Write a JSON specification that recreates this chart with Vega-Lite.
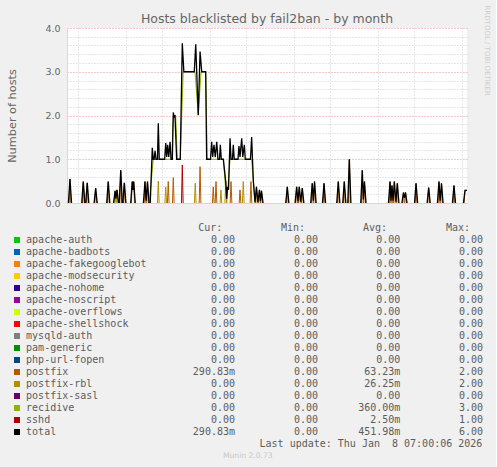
{
  "$schema": "https://vega.github.io/schema/vega-lite/v6.json",
  "background": "#f0f0f0",
  "padding": {"left": 6, "top": 5, "right": 5, "bottom": 5},
  "spacing": 9,
  "config": {
    "font": "DejaVu Sans",
    "view": {"stroke": null},
    "axis": {
      "labelFont": "DejaVu Sans", "labelFontSize": 9.5, "labelColor": "#666666",
      "titleFont": "DejaVu Sans", "titleFontWeight": "normal", "titleColor": "#666666",
      "domainColor": "#cfd6f8", "gridDash": [1, 2], "ticks": false, "tickSize": 0
    }
  },
  "datasets": {
    "lines": [
      {"s":"total","g":1,"d":0.16,"v":0},{"s":"total","g":1,"d":0.29,"v":0.55},{"s":"total","g":1,"d":0.42,"v":0},
      {"s":"total","g":2,"d":1.27,"v":0},{"s":"total","g":2,"d":1.40,"v":0.49},{"s":"total","g":2,"d":1.53,"v":0},
      {"s":"total","g":3,"d":1.60,"v":0},{"s":"total","g":3,"d":1.73,"v":0.46},{"s":"total","g":3,"d":1.86,"v":0},
      {"s":"total","g":4,"d":2.30,"v":0},{"s":"total","g":4,"d":2.43,"v":0.34},{"s":"total","g":4,"d":2.56,"v":0},
      {"s":"total","g":5,"d":3.35,"v":0},{"s":"total","g":5,"d":3.48,"v":0.49},{"s":"total","g":5,"d":3.61,"v":0},
      {"s":"total","g":6,"d":3.92,"v":0},{"s":"total","g":6,"d":4.05,"v":0.28},{"s":"total","g":6,"d":4.12,"v":0.1},{"s":"total","g":6,"d":4.21,"v":0.3},{"s":"total","g":6,"d":4.34,"v":0},
      {"s":"total","g":7,"d":4.39,"v":0},{"s":"total","g":7,"d":4.52,"v":0.75},{"s":"total","g":7,"d":4.65,"v":0},
      {"s":"total","g":8,"d":4.69,"v":0},{"s":"total","g":8,"d":4.82,"v":0.46},{"s":"total","g":8,"d":4.95,"v":0},
      {"s":"total","g":9,"d":5.35,"v":0},{"s":"total","g":9,"d":5.48,"v":0.49},{"s":"total","g":9,"d":5.54,"v":0.3},{"s":"total","g":9,"d":5.60,"v":0.49},{"s":"total","g":9,"d":5.73,"v":0},
      {"s":"total","g":10,"d":6.41,"v":0},{"s":"total","g":10,"d":6.54,"v":0.49},{"s":"total","g":10,"d":6.64,"v":0.05},{"s":"total","g":10,"d":6.75,"v":0.49},{"s":"total","g":10,"d":6.88,"v":0},
      {"s":"total","g":11,"d":6.98,"v":0},{"s":"total","g":11,"d":7.15,"v":1.26},{"s":"total","g":11,"d":7.23,"v":1.0},{"s":"total","g":11,"d":7.30,"v":1.0},{"s":"total","g":11,"d":7.38,"v":1.19},{"s":"total","g":11,"d":7.46,"v":1.0},{"s":"total","g":11,"d":7.58,"v":1.0},{"s":"total","g":11,"d":7.65,"v":1.82},{"s":"total","g":11,"d":7.73,"v":1.0},{"s":"total","g":11,"d":8.18,"v":1.0},{"s":"total","g":11,"d":8.27,"v":1.37},{"s":"total","g":11,"d":8.35,"v":1.05},{"s":"total","g":11,"d":8.43,"v":1.33},{"s":"total","g":11,"d":8.52,"v":1.05},{"s":"total","g":11,"d":8.63,"v":1.4},{"s":"total","g":11,"d":8.71,"v":1.0},{"s":"total","g":11,"d":8.82,"v":1.0},{"s":"total","g":11,"d":8.90,"v":2.07},{"s":"total","g":11,"d":8.98,"v":1.95},{"s":"total","g":11,"d":9.04,"v":2.01},{"s":"total","g":11,"d":9.18,"v":1.0},{"s":"total","g":11,"d":9.48,"v":1.0},{"s":"total","g":11,"d":9.65,"v":3.65},{"s":"total","g":11,"d":9.78,"v":3.0},{"s":"total","g":11,"d":10.65,"v":3.0},{"s":"total","g":11,"d":10.77,"v":3.63},{"s":"total","g":11,"d":10.98,"v":2.01},{"s":"total","g":11,"d":11.13,"v":3.46},{"s":"total","g":11,"d":11.27,"v":3.0},{"s":"total","g":11,"d":11.60,"v":3.0},{"s":"total","g":11,"d":11.68,"v":1.0},{"s":"total","g":11,"d":12.00,"v":1.0},{"s":"total","g":11,"d":12.10,"v":1.4},{"s":"total","g":11,"d":12.18,"v":1.05},{"s":"total","g":11,"d":12.29,"v":1.33},{"s":"total","g":11,"d":12.40,"v":1.05},{"s":"total","g":11,"d":12.52,"v":1.4},{"s":"total","g":11,"d":12.62,"v":1.0},{"s":"total","g":11,"d":12.75,"v":1.0},{"s":"total","g":11,"d":12.82,"v":1.33},{"s":"total","g":11,"d":12.90,"v":1.0},{"s":"total","g":11,"d":13.07,"v":1.0},{"s":"total","g":11,"d":13.27,"v":0.49},{"s":"total","g":11,"d":13.35,"v":0.1},{"s":"total","g":11,"d":13.42,"v":0.37},{"s":"total","g":11,"d":13.50,"v":0.3},{"s":"total","g":11,"d":13.63,"v":1.48},{"s":"total","g":11,"d":13.71,"v":1.0},{"s":"total","g":11,"d":13.83,"v":1.0},{"s":"total","g":11,"d":13.90,"v":1.33},{"s":"total","g":11,"d":13.98,"v":1.0},{"s":"total","g":11,"d":14.29,"v":1.0},{"s":"total","g":11,"d":14.37,"v":1.3},{"s":"total","g":11,"d":14.46,"v":1.05},{"s":"total","g":11,"d":14.60,"v":1.48},{"s":"total","g":11,"d":14.69,"v":1.05},{"s":"total","g":11,"d":14.82,"v":1.33},{"s":"total","g":11,"d":14.90,"v":1.0},{"s":"total","g":11,"d":15.33,"v":1.0},{"s":"total","g":11,"d":15.43,"v":1.51},{"s":"total","g":11,"d":15.50,"v":1.0},{"s":"total","g":11,"d":15.57,"v":0.5},{"s":"total","g":11,"d":15.71,"v":0.02},{"s":"total","g":11,"d":15.83,"v":0.37},{"s":"total","g":11,"d":15.95,"v":0.02},{"s":"total","g":11,"d":16.08,"v":0.3},{"s":"total","g":11,"d":16.16,"v":0.04},{"s":"total","g":11,"d":16.25,"v":0.28},{"s":"total","g":11,"d":16.38,"v":0},
      {"s":"total","g":12,"d":18.27,"v":0},{"s":"total","g":12,"d":18.40,"v":0.37},{"s":"total","g":12,"d":18.53,"v":0},
      {"s":"total","g":13,"d":19.05,"v":0},{"s":"total","g":13,"d":19.18,"v":0.37},{"s":"total","g":13,"d":19.29,"v":0.04},{"s":"total","g":13,"d":19.40,"v":0.37},{"s":"total","g":13,"d":19.52,"v":0.03},{"s":"total","g":13,"d":19.65,"v":0.34},{"s":"total","g":13,"d":19.78,"v":0},
      {"s":"total","g":14,"d":20.35,"v":0},{"s":"total","g":14,"d":20.48,"v":0.45},{"s":"total","g":14,"d":20.57,"v":0.05},{"s":"total","g":14,"d":20.67,"v":0.49},{"s":"total","g":14,"d":20.80,"v":0},
      {"s":"total","g":15,"d":21.33,"v":0},{"s":"total","g":15,"d":21.46,"v":0.45},{"s":"total","g":15,"d":21.59,"v":0},
      {"s":"total","g":16,"d":22.52,"v":0},{"s":"total","g":16,"d":22.65,"v":0.49},{"s":"total","g":16,"d":22.78,"v":0},
      {"s":"total","g":17,"d":23.02,"v":0},{"s":"total","g":17,"d":23.15,"v":0.49},{"s":"total","g":17,"d":23.28,"v":0},
      {"s":"total","g":18,"d":23.44,"v":0},{"s":"total","g":18,"d":23.57,"v":1.0},{"s":"total","g":18,"d":23.70,"v":0},
      {"s":"total","g":19,"d":24.52,"v":0},{"s":"total","g":19,"d":24.65,"v":0.75},{"s":"total","g":19,"d":24.74,"v":0.08},{"s":"total","g":19,"d":24.83,"v":0.49},{"s":"total","g":19,"d":24.96,"v":0},
      {"s":"total","g":20,"d":26.83,"v":0},{"s":"total","g":20,"d":26.96,"v":0.49},{"s":"total","g":20,"d":27.04,"v":0.05},{"s":"total","g":20,"d":27.12,"v":0.4},{"s":"total","g":20,"d":27.22,"v":0.05},{"s":"total","g":20,"d":27.32,"v":0.49},{"s":"total","g":20,"d":27.45,"v":0.03},{"s":"total","g":20,"d":27.57,"v":0.45},{"s":"total","g":20,"d":27.70,"v":0},
      {"s":"total","g":21,"d":27.95,"v":0},{"s":"total","g":21,"d":28.08,"v":0.24},{"s":"total","g":21,"d":28.16,"v":0.12},{"s":"total","g":21,"d":28.25,"v":0.24},{"s":"total","g":21,"d":28.38,"v":0},
      {"s":"total","g":22,"d":29.00,"v":0},{"s":"total","g":22,"d":29.13,"v":0.45},{"s":"total","g":22,"d":29.26,"v":0},
      {"s":"total","g":23,"d":30.05,"v":0},{"s":"total","g":23,"d":30.18,"v":0.35},{"s":"total","g":23,"d":30.31,"v":0},
      {"s":"total","g":24,"d":30.91,"v":0},{"s":"total","g":24,"d":31.04,"v":0.49},{"s":"total","g":24,"d":31.14,"v":0.05},{"s":"total","g":24,"d":31.25,"v":0.45},{"s":"total","g":24,"d":31.38,"v":0},
      {"s":"total","g":25,"d":32.16,"v":0},{"s":"total","g":25,"d":32.29,"v":0.4},{"s":"total","g":25,"d":32.42,"v":0},
      {"s":"total","g":26,"d":33.08,"v":0},{"s":"total","g":26,"d":33.21,"v":0.29},{"s":"total","g":26,"d":33.375,"v":0.29},

      {"s":"recidive","g":1,"d":6.90,"v":0},{"s":"recidive","g":1,"d":7.23,"v":1.0},{"s":"recidive","g":1,"d":8.77,"v":1.0},{"s":"recidive","g":1,"d":8.90,"v":2.0},{"s":"recidive","g":1,"d":9.10,"v":2.0},{"s":"recidive","g":1,"d":9.24,"v":1.0},{"s":"recidive","g":1,"d":9.48,"v":1.0},{"s":"recidive","g":1,"d":9.73,"v":3.0},{"s":"recidive","g":1,"d":10.71,"v":3.0},{"s":"recidive","g":1,"d":10.98,"v":2.0},{"s":"recidive","g":1,"d":11.21,"v":3.0},{"s":"recidive","g":1,"d":11.60,"v":3.0},{"s":"recidive","g":1,"d":11.73,"v":1.0},{"s":"recidive","g":1,"d":13.07,"v":1.0},{"s":"recidive","g":1,"d":13.35,"v":0},{"s":"recidive","g":1,"d":13.63,"v":1.0},{"s":"recidive","g":1,"d":15.43,"v":1.0},{"s":"recidive","g":1,"d":15.71,"v":0},

      {"s":"sshd","g":1,"d":9.58,"v":0},{"s":"sshd","g":1,"d":9.65,"v":0.87},{"s":"sshd","g":1,"d":9.72,"v":0},

      {"s":"postfix-rbl","g":1,"d":3.98,"v":0},{"s":"postfix-rbl","g":1,"d":4.05,"v":0.28},{"s":"postfix-rbl","g":1,"d":4.12,"v":0},
      {"s":"postfix-rbl","g":2,"d":4.14,"v":0},{"s":"postfix-rbl","g":2,"d":4.21,"v":0.3},{"s":"postfix-rbl","g":2,"d":4.28,"v":0},
      {"s":"postfix-rbl","g":3,"d":7.58,"v":0},{"s":"postfix-rbl","g":3,"d":7.65,"v":0.5},{"s":"postfix-rbl","g":3,"d":7.72,"v":0},
      {"s":"postfix-rbl","g":4,"d":8.20,"v":0},{"s":"postfix-rbl","g":4,"d":8.27,"v":0.37},{"s":"postfix-rbl","g":4,"d":8.34,"v":0},
      {"s":"postfix-rbl","g":5,"d":10.66,"v":0},{"s":"postfix-rbl","g":5,"d":10.73,"v":0.45},{"s":"postfix-rbl","g":5,"d":10.80,"v":0},
      {"s":"postfix-rbl","g":6,"d":12.80,"v":0},{"s":"postfix-rbl","g":6,"d":12.87,"v":0.3},{"s":"postfix-rbl","g":6,"d":12.94,"v":0},
      {"s":"postfix-rbl","g":7,"d":13.20,"v":0},{"s":"postfix-rbl","g":7,"d":13.27,"v":0.49},{"s":"postfix-rbl","g":7,"d":13.34,"v":0},
      {"s":"postfix-rbl","g":8,"d":14.66,"v":0},{"s":"postfix-rbl","g":8,"d":14.73,"v":0.49},{"s":"postfix-rbl","g":8,"d":14.80,"v":0},

      {"s":"postfix","g":1,"d":0.22,"v":0},{"s":"postfix","g":1,"d":0.29,"v":0.55},{"s":"postfix","g":1,"d":0.36,"v":0},
      {"s":"postfix","g":2,"d":1.33,"v":0},{"s":"postfix","g":2,"d":1.40,"v":0.49},{"s":"postfix","g":2,"d":1.47,"v":0},
      {"s":"postfix","g":3,"d":1.66,"v":0},{"s":"postfix","g":3,"d":1.73,"v":0.46},{"s":"postfix","g":3,"d":1.80,"v":0},
      {"s":"postfix","g":4,"d":2.36,"v":0},{"s":"postfix","g":4,"d":2.43,"v":0.34},{"s":"postfix","g":4,"d":2.50,"v":0},
      {"s":"postfix","g":5,"d":3.41,"v":0},{"s":"postfix","g":5,"d":3.48,"v":0.49},{"s":"postfix","g":5,"d":3.55,"v":0},
      {"s":"postfix","g":6,"d":4.45,"v":0},{"s":"postfix","g":6,"d":4.52,"v":0.75},{"s":"postfix","g":6,"d":4.59,"v":0},
      {"s":"postfix","g":7,"d":4.75,"v":0},{"s":"postfix","g":7,"d":4.82,"v":0.46},{"s":"postfix","g":7,"d":4.89,"v":0},
      {"s":"postfix","g":8,"d":5.41,"v":0},{"s":"postfix","g":8,"d":5.48,"v":0.49},{"s":"postfix","g":8,"d":5.54,"v":0.3},{"s":"postfix","g":8,"d":5.60,"v":0.49},{"s":"postfix","g":8,"d":5.67,"v":0},
      {"s":"postfix","g":9,"d":6.47,"v":0},{"s":"postfix","g":9,"d":6.54,"v":0.49},{"s":"postfix","g":9,"d":6.61,"v":0},
      {"s":"postfix","g":10,"d":6.68,"v":0},{"s":"postfix","g":10,"d":6.75,"v":0.49},{"s":"postfix","g":10,"d":6.82,"v":0},
      {"s":"postfix","g":11,"d":8.41,"v":0},{"s":"postfix","g":11,"d":8.48,"v":0.49},{"s":"postfix","g":11,"d":8.55,"v":0},
      {"s":"postfix","g":12,"d":8.83,"v":0},{"s":"postfix","g":12,"d":8.90,"v":0.58},{"s":"postfix","g":12,"d":8.97,"v":0},
      {"s":"postfix","g":13,"d":11.06,"v":0},{"s":"postfix","g":13,"d":11.13,"v":0.83},{"s":"postfix","g":13,"d":11.20,"v":0},
      {"s":"postfix","g":14,"d":12.16,"v":0},{"s":"postfix","g":14,"d":12.23,"v":0.37},{"s":"postfix","g":14,"d":12.30,"v":0},
      {"s":"postfix","g":15,"d":12.39,"v":0},{"s":"postfix","g":15,"d":12.46,"v":0.49},{"s":"postfix","g":15,"d":12.53,"v":0},
      {"s":"postfix","g":16,"d":13.64,"v":0},{"s":"postfix","g":16,"d":13.71,"v":0.49},{"s":"postfix","g":16,"d":13.78,"v":0},
      {"s":"postfix","g":17,"d":14.39,"v":0},{"s":"postfix","g":17,"d":14.46,"v":0.3},{"s":"postfix","g":17,"d":14.53,"v":0},
      {"s":"postfix","g":18,"d":15.30,"v":0},{"s":"postfix","g":18,"d":15.37,"v":0.49},{"s":"postfix","g":18,"d":15.44,"v":0},
      {"s":"postfix","g":19,"d":15.76,"v":0},{"s":"postfix","g":19,"d":15.83,"v":0.37},{"s":"postfix","g":19,"d":15.90,"v":0},
      {"s":"postfix","g":20,"d":16.01,"v":0},{"s":"postfix","g":20,"d":16.08,"v":0.3},{"s":"postfix","g":20,"d":16.15,"v":0},
      {"s":"postfix","g":21,"d":16.18,"v":0},{"s":"postfix","g":21,"d":16.25,"v":0.28},{"s":"postfix","g":21,"d":16.32,"v":0},
      {"s":"postfix","g":22,"d":18.33,"v":0},{"s":"postfix","g":22,"d":18.40,"v":0.37},{"s":"postfix","g":22,"d":18.47,"v":0},
      {"s":"postfix","g":23,"d":19.11,"v":0},{"s":"postfix","g":23,"d":19.18,"v":0.37},{"s":"postfix","g":23,"d":19.25,"v":0},
      {"s":"postfix","g":24,"d":19.33,"v":0},{"s":"postfix","g":24,"d":19.40,"v":0.37},{"s":"postfix","g":24,"d":19.47,"v":0},
      {"s":"postfix","g":25,"d":19.58,"v":0},{"s":"postfix","g":25,"d":19.65,"v":0.34},{"s":"postfix","g":25,"d":19.72,"v":0},
      {"s":"postfix","g":26,"d":20.41,"v":0},{"s":"postfix","g":26,"d":20.48,"v":0.45},{"s":"postfix","g":26,"d":20.55,"v":0},
      {"s":"postfix","g":27,"d":20.60,"v":0},{"s":"postfix","g":27,"d":20.67,"v":0.49},{"s":"postfix","g":27,"d":20.74,"v":0},
      {"s":"postfix","g":28,"d":21.39,"v":0},{"s":"postfix","g":28,"d":21.46,"v":0.45},{"s":"postfix","g":28,"d":21.53,"v":0},
      {"s":"postfix","g":29,"d":22.58,"v":0},{"s":"postfix","g":29,"d":22.65,"v":0.49},{"s":"postfix","g":29,"d":22.72,"v":0},
      {"s":"postfix","g":30,"d":23.08,"v":0},{"s":"postfix","g":30,"d":23.15,"v":0.49},{"s":"postfix","g":30,"d":23.22,"v":0},
      {"s":"postfix","g":31,"d":23.50,"v":0},{"s":"postfix","g":31,"d":23.57,"v":1.0},{"s":"postfix","g":31,"d":23.64,"v":0},
      {"s":"postfix","g":32,"d":24.58,"v":0},{"s":"postfix","g":32,"d":24.65,"v":0.75},{"s":"postfix","g":32,"d":24.72,"v":0},
      {"s":"postfix","g":33,"d":24.76,"v":0},{"s":"postfix","g":33,"d":24.83,"v":0.49},{"s":"postfix","g":33,"d":24.90,"v":0},
      {"s":"postfix","g":34,"d":26.89,"v":0},{"s":"postfix","g":34,"d":26.96,"v":0.49},{"s":"postfix","g":34,"d":27.03,"v":0},
      {"s":"postfix","g":35,"d":27.05,"v":0},{"s":"postfix","g":35,"d":27.12,"v":0.4},{"s":"postfix","g":35,"d":27.19,"v":0},
      {"s":"postfix","g":36,"d":27.25,"v":0},{"s":"postfix","g":36,"d":27.32,"v":0.49},{"s":"postfix","g":36,"d":27.39,"v":0},
      {"s":"postfix","g":37,"d":27.50,"v":0},{"s":"postfix","g":37,"d":27.57,"v":0.45},{"s":"postfix","g":37,"d":27.64,"v":0},
      {"s":"postfix","g":38,"d":28.01,"v":0},{"s":"postfix","g":38,"d":28.08,"v":0.24},{"s":"postfix","g":38,"d":28.15,"v":0},
      {"s":"postfix","g":39,"d":28.18,"v":0},{"s":"postfix","g":39,"d":28.25,"v":0.24},{"s":"postfix","g":39,"d":28.32,"v":0},
      {"s":"postfix","g":40,"d":29.06,"v":0},{"s":"postfix","g":40,"d":29.13,"v":0.45},{"s":"postfix","g":40,"d":29.20,"v":0},
      {"s":"postfix","g":41,"d":30.11,"v":0},{"s":"postfix","g":41,"d":30.18,"v":0.35},{"s":"postfix","g":41,"d":30.25,"v":0},
      {"s":"postfix","g":42,"d":30.97,"v":0},{"s":"postfix","g":42,"d":31.04,"v":0.49},{"s":"postfix","g":42,"d":31.11,"v":0},
      {"s":"postfix","g":43,"d":31.18,"v":0},{"s":"postfix","g":43,"d":31.25,"v":0.45},{"s":"postfix","g":43,"d":31.32,"v":0},
      {"s":"postfix","g":44,"d":32.22,"v":0},{"s":"postfix","g":44,"d":32.29,"v":0.4},{"s":"postfix","g":44,"d":32.36,"v":0},
      {"s":"postfix","g":45,"d":33.14,"v":0},{"s":"postfix","g":45,"d":33.21,"v":0.29},{"s":"postfix","g":45,"d":33.375,"v":0.29}
    ],
    "legend": [
      {"s":"apache-auth","cur":"0.00\u00a0","min":"0.00\u00a0","avg":"0.00\u00a0","max":"0.00\u00a0"},
      {"s":"apache-badbots","cur":"0.00\u00a0","min":"0.00\u00a0","avg":"0.00\u00a0","max":"0.00\u00a0"},
      {"s":"apache-fakegooglebot","cur":"0.00\u00a0","min":"0.00\u00a0","avg":"0.00\u00a0","max":"0.00\u00a0"},
      {"s":"apache-modsecurity","cur":"0.00\u00a0","min":"0.00\u00a0","avg":"0.00\u00a0","max":"0.00\u00a0"},
      {"s":"apache-nohome","cur":"0.00\u00a0","min":"0.00\u00a0","avg":"0.00\u00a0","max":"0.00\u00a0"},
      {"s":"apache-noscript","cur":"0.00\u00a0","min":"0.00\u00a0","avg":"0.00\u00a0","max":"0.00\u00a0"},
      {"s":"apache-overflows","cur":"0.00\u00a0","min":"0.00\u00a0","avg":"0.00\u00a0","max":"0.00\u00a0"},
      {"s":"apache-shellshock","cur":"0.00\u00a0","min":"0.00\u00a0","avg":"0.00\u00a0","max":"0.00\u00a0"},
      {"s":"mysqld-auth","cur":"0.00\u00a0","min":"0.00\u00a0","avg":"0.00\u00a0","max":"0.00\u00a0"},
      {"s":"pam-generic","cur":"0.00\u00a0","min":"0.00\u00a0","avg":"0.00\u00a0","max":"0.00\u00a0"},
      {"s":"php-url-fopen","cur":"0.00\u00a0","min":"0.00\u00a0","avg":"0.00\u00a0","max":"0.00\u00a0"},
      {"s":"postfix","cur":"290.83m","min":"0.00\u00a0","avg":"63.23m","max":"2.00\u00a0"},
      {"s":"postfix-rbl","cur":"0.00\u00a0","min":"0.00\u00a0","avg":"26.25m","max":"2.00\u00a0"},
      {"s":"postfix-sasl","cur":"0.00\u00a0","min":"0.00\u00a0","avg":"0.00\u00a0","max":"0.00\u00a0"},
      {"s":"recidive","cur":"0.00\u00a0","min":"0.00\u00a0","avg":"360.00m","max":"3.00\u00a0"},
      {"s":"sshd","cur":"0.00\u00a0","min":"0.00\u00a0","avg":"2.50m","max":"1.00\u00a0"},
      {"s":"total","cur":"290.83m","min":"0.00\u00a0","avg":"451.98m","max":"6.00\u00a0"}
    ]
  },
  "vconcat": [
    {
      "width": 400,
      "height": 175,
      "view": {"fill": "#ffffff", "stroke": null},
      "title": {"text": "Hosts blacklisted by fail2ban - by month", "font": "DejaVu Sans", "fontSize": 12.5, "fontWeight": "normal", "color": "#666666", "anchor": "middle", "offset": 0, "dy": 30, "baseline": "alphabetic"},
      "data": {"name": "lines"},
      "layer": [
        {
          "transform": [{"filter": "datum.s !== 'total'"}],
          "mark": {"type": "line", "strokeWidth": 1},
          "encoding": {
            "x": {
              "field": "d", "type": "quantitative",
              "scale": {"domain": [0.042, 33.375], "nice": false, "zero": false},
              "axis": {
                "title": null,
                "values": [1,2,3,4,5,6,7,8,9,10,11,12,13,14,15,16,17,18,19,20,21,22,23,24,25,26,27,28,29,30,31,32,33,5.5,12.5,19.5,26.5],
                "grid": true,
                "gridColor": {"condition": {"test": "(datum.value - 2) % 7 === 0", "value": "#ee9090"}, "value": "#cccccc"},
                "gridOpacity": {"condition": {"test": "datum.value % 1 !== 0", "value": 0}, "value": 1},
                "labelExpr": "datum.value === 5.5 ? 'Week 50' : datum.value === 12.5 ? 'Week 51' : datum.value === 19.5 ? 'Week 52' : datum.value === 26.5 ? 'Week 01' : ''",
                "labelPadding": 0,
                "labelOverlap": false,
                "labelFlush": false,
                "labelBound": false
              }
            },
            "y": {
              "field": "v", "type": "quantitative",
              "scale": {"domain": [0, 4], "nice": false},
              "axis": {
                "title": "Number of hosts",
                "titleFontSize": 11.3,
                "titlePadding": 27,
                "values": [0,0.2,0.4,0.6,0.8,1,1.2,1.4,1.6,1.8,2,2.2,2.4,2.6,2.8,3,3.2,3.4,3.6,3.8,4],
                "labelExpr": "datum.value % 1 === 0 ? format(datum.value, '.1f') : ''",
                "labelPadding": 7,
                "grid": true,
                "gridColor": {"condition": {"test": "datum.value % 1 === 0", "value": "#ee9090"}, "value": "#cccccc"},
                "labelOverlap": false,
                "labelFlush": false
              }
            },
            "color": {
              "field": "s", "type": "nominal", "legend": null,
              "scale": {
                "domain": ["apache-auth","apache-badbots","apache-fakegooglebot","apache-modsecurity","apache-nohome","apache-noscript","apache-overflows","apache-shellshock","mysqld-auth","pam-generic","php-url-fopen","postfix","postfix-rbl","postfix-sasl","recidive","sshd","total"],
                "range": ["#00cc00","#0066b3","#ff8000","#ffcc00","#330099","#990099","#ccff00","#ff0000","#808080","#008f00","#00487d","#b35a00","#b38f00","#6b006b","#8fb300","#b30000","#000000"]
              }
            },
            "detail": {"field": "g", "type": "nominal"}
          }
        },
        {
          "transform": [{"filter": "datum.s === 'total'"}],
          "mark": {"type": "line", "strokeWidth": 1.3},
          "encoding": {
            "x": {"field": "d", "type": "quantitative"},
            "y": {
              "field": "v", "type": "quantitative",
              "axis": {
                "orient": "right",
                "title": "RRDTOOL / TOBI OETIKER",
                "titleFontSize": 7,
                "titleColor": "#cccccc",
                "titleAngle": 90,
                "titleX": 19.3,
                "titleY": -23,
                "titleAlign": "left",
                "titleBaseline": "middle",
                "labels": false,
                "ticks": false,
                "domain": false,
                "grid": false
              }
            },
            "color": {
              "field": "s", "type": "nominal", "legend": null,
              "scale": {
                "domain": ["apache-auth","apache-badbots","apache-fakegooglebot","apache-modsecurity","apache-nohome","apache-noscript","apache-overflows","apache-shellshock","mysqld-auth","pam-generic","php-url-fopen","postfix","postfix-rbl","postfix-sasl","recidive","sshd","total"],
                "range": ["#00cc00","#0066b3","#ff8000","#ffcc00","#330099","#990099","#ccff00","#ff0000","#808080","#008f00","#00487d","#b35a00","#b38f00","#6b006b","#8fb300","#b30000","#000000"]
              }
            },
            "detail": {"field": "g", "type": "nominal"}
          }
        }
      ],
      "resolve": {"axis": {"y": "independent"}}
    },
    {
      "width": 420,
      "height": 240,
      "view": {"stroke": null},
      "data": {"name": "legend"},
      "layer": [
        {
          "mark": {"type": "square", "size": 36, "opacity": 1},
          "encoding": {
            "x": {"datum": -8.33, "type": "quantitative", "scale": {"domain": [0, 70], "nice": false, "zero": false}, "axis": null},
            "y": {"field": "s", "type": "nominal", "axis": null,
                  "scale": {"type": "point", "padding": 0.5, "domain": ["hdr","apache-auth","apache-badbots","apache-fakegooglebot","apache-modsecurity","apache-nohome","apache-noscript","apache-overflows","apache-shellshock","mysqld-auth","pam-generic","php-url-fopen","postfix","postfix-rbl","postfix-sasl","recidive","sshd","total","upd","ver"]}},
            "color": {
              "field": "s", "type": "nominal", "legend": null,
              "scale": {
                "domain": ["apache-auth","apache-badbots","apache-fakegooglebot","apache-modsecurity","apache-nohome","apache-noscript","apache-overflows","apache-shellshock","mysqld-auth","pam-generic","php-url-fopen","postfix","postfix-rbl","postfix-sasl","recidive","sshd","total"],
                "range": ["#00cc00","#0066b3","#ff8000","#ffcc00","#330099","#990099","#ccff00","#ff0000","#808080","#008f00","#00487d","#b35a00","#b38f00","#6b006b","#8fb300","#b30000","#000000"]
              }
            }
          }
        },
        {
          "mark": {"type": "text", "font": "DejaVu Sans Mono", "fontSize": 10, "color": "#5c5c5c", "align": "left"},
          "encoding": {"x": {"datum": -6.82, "type": "quantitative"}, "y": {"field": "s", "type": "nominal"}, "text": {"field": "s"}}
        },
        {
          "mark": {"type": "text", "font": "DejaVu Sans Mono", "fontSize": 10, "color": "#5c5c5c", "align": "right"},
          "encoding": {"x": {"datum": 28.0, "type": "quantitative"}, "y": {"field": "s", "type": "nominal"}, "text": {"field": "cur"}}
        },
        {
          "mark": {"type": "text", "font": "DejaVu Sans Mono", "fontSize": 10, "color": "#5c5c5c", "align": "right"},
          "encoding": {"x": {"datum": 41.83, "type": "quantitative"}, "y": {"field": "s", "type": "nominal"}, "text": {"field": "min"}}
        },
        {
          "mark": {"type": "text", "font": "DejaVu Sans Mono", "fontSize": 10, "color": "#5c5c5c", "align": "right"},
          "encoding": {"x": {"datum": 55.55, "type": "quantitative"}, "y": {"field": "s", "type": "nominal"}, "text": {"field": "avg"}}
        },
        {
          "mark": {"type": "text", "font": "DejaVu Sans Mono", "fontSize": 10, "color": "#5c5c5c", "align": "right"},
          "encoding": {"x": {"datum": 69.33, "type": "quantitative"}, "y": {"field": "s", "type": "nominal"}, "text": {"field": "max"}}
        },
        {
          "data": {"values": [{"t": "Cur:"}]},
          "mark": {"type": "text", "font": "DejaVu Sans Mono", "fontSize": 10, "color": "#5c5c5c", "align": "right"},
          "encoding": {"x": {"datum": 25.88, "type": "quantitative"}, "y": {"datum": "hdr", "type": "nominal"}, "text": {"field": "t"}}
        },
        {
          "data": {"values": [{"t": "Min:"}]},
          "mark": {"type": "text", "font": "DejaVu Sans Mono", "fontSize": 10, "color": "#5c5c5c", "align": "right"},
          "encoding": {"x": {"datum": 39.67, "type": "quantitative"}, "y": {"datum": "hdr", "type": "nominal"}, "text": {"field": "t"}}
        },
        {
          "data": {"values": [{"t": "Avg:"}]},
          "mark": {"type": "text", "font": "DejaVu Sans Mono", "fontSize": 10, "color": "#5c5c5c", "align": "right"},
          "encoding": {"x": {"datum": 53.33, "type": "quantitative"}, "y": {"datum": "hdr", "type": "nominal"}, "text": {"field": "t"}}
        },
        {
          "data": {"values": [{"t": "Max:"}]},
          "mark": {"type": "text", "font": "DejaVu Sans Mono", "fontSize": 10, "color": "#5c5c5c", "align": "right"},
          "encoding": {"x": {"datum": 67.17, "type": "quantitative"}, "y": {"datum": "hdr", "type": "nominal"}, "text": {"field": "t"}}
        },
        {
          "data": {"values": [{"t": "Last update: Thu Jan\u00a0 8 07:00:06 2026"}]},
          "mark": {"type": "text", "font": "DejaVu Sans Mono", "fontSize": 10, "color": "#5c5c5c", "align": "right"},
          "encoding": {"x": {"datum": 69.22, "type": "quantitative"}, "y": {"datum": "upd", "type": "nominal"}, "text": {"field": "t"}}
        },
        {
          "data": {"values": [{"t": "Munin 2.0.73"}]},
          "mark": {"type": "text", "font": "DejaVu Sans", "fontSize": 7.6, "color": "#c8c8c8", "align": "center"},
          "encoding": {"x": {"datum": 30.13, "type": "quantitative"}, "y": {"datum": "ver", "type": "nominal"}, "text": {"field": "t"}}
        }
      ]
    }
  ]
}
